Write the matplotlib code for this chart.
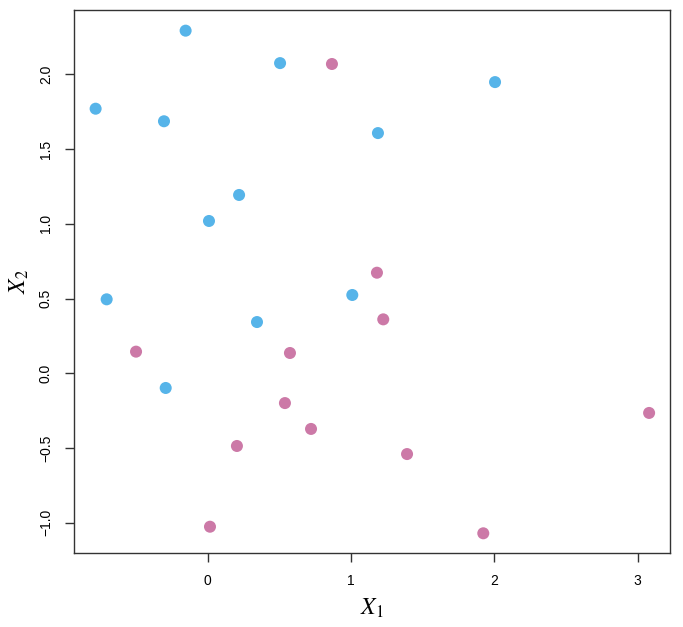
import matplotlib
matplotlib.use("Agg")
import matplotlib.pyplot as plt

# class 1 (blue)
blue_x1 = [-0.782, -0.154, -0.305, 0.505, 1.188, 2.005, 0.219, 0.009, -0.705, 0.344, 1.009, -0.293]
blue_x2 = [1.770, 2.292, 1.686, 2.075, 1.607, 1.948, 1.193, 1.019, 0.495, 0.343, 0.524, -0.098]

# class 2 (purple)
purple_x1 = [0.867, 1.181, 1.225, -0.500, 0.574, 0.539, 0.721, 0.204, 1.391, 3.080, 0.016, 1.923]
purple_x2 = [2.069, 0.673, 0.361, 0.145, 0.136, -0.199, -0.372, -0.486, -0.540, -0.265, -1.026, -1.070]

x_ticks = [0, 1, 2, 3]
y_ticks = [-1.0, -0.5, 0.0, 0.5, 1.0, 1.5, 2.0]

plt.rcParams["font.family"] = ["Liberation Sans", "DejaVu Sans"]
plt.rcParams["mathtext.fontset"] = "stix"

fig = plt.figure(figsize=(6.83, 6.27), dpi=100)
ax = fig.add_axes([0.1079, 0.1175, 0.8731, 0.8665])

ax.scatter(blue_x1, blue_x2, s=75, color="#56B4E9", edgecolors="none", zorder=3)
ax.scatter(purple_x1, purple_x2, s=75, color="#CC79A7", edgecolors="none", zorder=3)

ax.set_xlim(-0.935, 3.226)
ax.set_ylim(-1.204, 2.430)

ax.spines["top"].set_visible(False)
ax.spines["left"].set_bounds(-1.204, 2.430)
for sp in ax.spines.values():
    sp.set_color("#333333")
    sp.set_linewidth(1.0)
ax.spines["top"].set_visible(True)

ax.set_xticks(x_ticks)
ax.set_xticklabels([str(t) for t in x_ticks])
ax.set_yticks(y_ticks)
ax.set_yticklabels([f"{t:.1f}".replace("-", "\u2212") for t in y_ticks],
                   rotation=90, va="center")
ax.tick_params(axis="both", direction="out", length=6.5, width=1.0,
               color="#333333", labelsize=10, pad=8.5)

ax.set_xlabel(r"$X_1$", fontsize=17, labelpad=6)
ax.set_ylabel(r"$X_2$", fontsize=17, labelpad=6)

fig.savefig("out.png", dpi=100)
